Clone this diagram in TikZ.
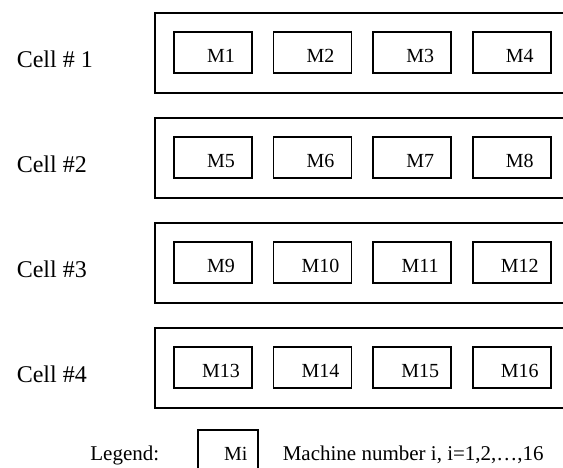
\documentclass[tikz,border=0pt]{standalone}
\usepackage{fontspec}
\setmainfont{Liberation Serif}
\usetikzlibrary{positioning}
\tikzset{
  every picture/.style={line width=1.6pt},
  cellbox/.style={draw, minimum width=440pt, minimum height=80pt, anchor=north west, inner sep=0pt},
  machine/.style={draw, minimum width=78pt, minimum height=41pt, inner sep=0pt,
    text height=20pt, text depth=0pt,
    font=\fontsize{20}{24}\selectfont, execute at begin node=\hspace*{16pt}},
  celltext/.style={font=\fontsize{24}{28}\selectfont, anchor=base west, inner sep=0pt},
  note/.style={font=\fontsize{21}{25}\selectfont, anchor=base west, inner sep=0pt},
}

\begin{document}
\begin{tikzpicture}[x=1pt, y=-1pt]
  \useasboundingbox (0,0) rectangle (563,468);
  \clip (0,0) rectangle (563,468);
  % four cells, four machines each
  \foreach \c/\txt in {1/{Cell \# 1},2/{Cell \#2},3/{Cell \#3},4/{Cell \#4}} {
    \pgfmathsetmacro{\celly}{12+105*(\c-1)}
    \node[cellbox] (cell\c) at (154,\celly) {};
    \node[celltext] (lab\c) at (16,\celly+55.5) {\txt};
    \pgfmathtruncatemacro{\first}{4*(\c-1)+1}
    \node[machine] (m\first) at (213,\celly+40.5) {M\first};
    \foreach \k in {2,3,4} {
      \pgfmathtruncatemacro{\n}{4*(\c-1)+\k}
      \pgfmathtruncatemacro{\p}{\n-1}
      \node[machine, right=20pt of m\p] (m\n) {M\n};
    }
  }
  % legend
  \node[machine, minimum width=60pt, minimum height=42pt, anchor=north west,
    execute at begin node={}] (legbox) at (197,429) {Mi};
  \node[note, anchor=base east] (leglab) at (160,460) {Legend:};
  \node[note] (legtext) at (282,460) {Machine number i, i=1,2,\ldots,16};
\end{tikzpicture}
\end{document}
